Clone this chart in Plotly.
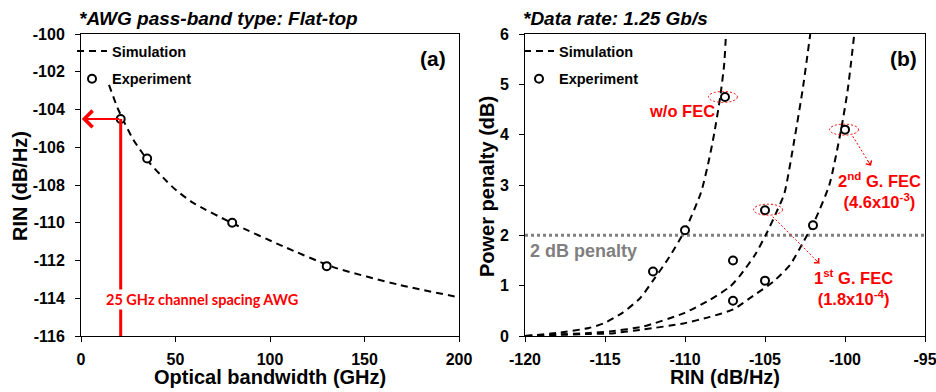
import plotly.graph_objects as go

# ---------------- Data: panel (a) ----------------
bw_sim = [14.8, 19.7, 27.7, 36.5, 45.3, 50.6, 59.4, 80.6, 107, 133.5, 168.8, 200]
rin_sim = [-102.7, -104.0, -105.6, -106.85, -107.8, -108.3, -108.95, -110.05, -111.25, -112.35, -113.3, -113.95]
bw_exp = [21, 35, 80, 130]
rin_exp = [-104.5, -106.6, -110.0, -112.3]
awg_bw = 21
awg_rin = -104.5
xa_ticks = [0, 50, 100, 150, 200]
xa_labels = ["0", "50", "100", "150", "200"]
ya_ticks = [-116, -114, -112, -110, -108, -106, -104, -102, -100]
ya_labels = ["-116", "-114", "-112", "-110", "-108", "-106", "-104", "-102", "-100"]

# ---------------- Data: panel (b) ----------------
rin_nofec = [-120, -118, -116, -115.1, -113.96, -112.81, -111.98, -111.04, -110.0, -109.0, -108.5, -108.17, -107.8, -107.55, -107.44]
pp_nofec = [0.0, 0.06, 0.16, 0.25, 0.45, 0.75, 1.11, 1.54, 2.1, 2.85, 3.5, 4.03, 4.75, 5.4, 6.0]
rin_fec1 = [-120, -118, -116, -114.7, -112.6, -110.1, -108.44, -107.19, -106.56, -105.63, -104.9, -104.27, -103.79, -103.17, -102.65, -102.17]
pp_fec1 = [0.0, 0.03, 0.06, 0.09, 0.19, 0.45, 0.72, 0.98, 1.2, 1.61, 2.04, 2.47, 2.83, 3.89, 4.89, 6.0]
rin_fec2 = [-120, -118, -116, -114.7, -112.6, -110.1, -108.44, -106.98, -105.73, -104.48, -103.44, -102.6, -101.88, -100.98, -100.25, -99.83, -99.42]
pp_fec2 = [0.0, 0.02, 0.04, 0.05, 0.13, 0.25, 0.38, 0.53, 0.8, 1.08, 1.41, 1.87, 2.3, 3.0, 4.09, 4.89, 6.0]
rin_exp_b = [-107.5, -110, -112, -107, -107, -105, -105, -102, -100]
pp_exp_b = [4.75, 2.1, 1.28, 1.5, 0.7, 2.5, 1.1, 2.2, 4.1]
penalty_level = 2
xb_ticks = [-120, -115, -110, -105, -100, -95]
xb_labels = ["-120", "-115", "-110", "-105", "-100", "-95"]
yb_ticks = [0, 1, 2, 3, 4, 5, 6]
yb_labels = ["0", "1", "2", "3", "4", "5", "6"]

FONT = "Liberation Sans, Arial, sans-serif"
RED = "#ff0000"
DASH = "7px,5px"

fig = go.Figure()

line_style = dict(color="black", width=2, dash=DASH, shape="spline", smoothing=0.6)
mk = dict(symbol="circle", size=8, color="white", line=dict(color="black", width=2))

fig.add_trace(go.Scatter(x=bw_sim, y=rin_sim, mode="lines", line=line_style, name="Simulation",
                         xaxis="x", yaxis="y", legend="legend", legendgroup="s"))
fig.add_trace(go.Scatter(x=bw_exp, y=rin_exp, mode="markers", marker=mk, name="Experiment",
                         xaxis="x", yaxis="y", legend="legend", legendgroup="e"))

fig.add_trace(go.Scatter(x=rin_nofec, y=pp_nofec, mode="lines", line=line_style, name="Simulation",
                         xaxis="x2", yaxis="y2", legend="legend2", legendgroup="s2"))
fig.add_trace(go.Scatter(x=rin_fec1, y=pp_fec1, mode="lines", line=line_style, showlegend=False,
                         xaxis="x2", yaxis="y2", legend="legend2", legendgroup="s2"))
fig.add_trace(go.Scatter(x=rin_fec2, y=pp_fec2, mode="lines", line=line_style, showlegend=False,
                         xaxis="x2", yaxis="y2", legend="legend2", legendgroup="s2"))
fig.add_trace(go.Scatter(x=rin_exp_b, y=pp_exp_b, mode="markers", marker=mk, name="Experiment",
                         xaxis="x2", yaxis="y2", legend="legend2", legendgroup="e2"))

tickfont = dict(family=FONT, size=16, color="black", weight="bold")
ax_common = dict(showline=True, linecolor="black", linewidth=1, mirror=True, ticks="outside",
                 ticklen=5, tickcolor="black", showgrid=False, zeroline=False, tickfont=tickfont,
                 tickmode="array", automargin=False, ticklabeloverflow="allow")

fig.update_layout(
    width=936, height=392, margin=dict(l=0, r=0, t=0, b=0, autoexpand=False),
    paper_bgcolor="white", plot_bgcolor="white",
    xaxis=dict(domain=[81/936, 459/936], range=[0, 200], tickvals=xa_ticks, ticktext=xa_labels, anchor="y",
               ticklabelstandoff=4, **ax_common),
    yaxis=dict(domain=[56/392, 358/392], range=[-116, -100], tickvals=ya_ticks, ticktext=ya_labels, anchor="x",
               ticklabelstandoff=7, **ax_common),
    xaxis2=dict(domain=[525/936, 925/936], range=[-120, -95], tickvals=xb_ticks, ticktext=xb_labels, anchor="y2",
                ticklabelstandoff=4, **ax_common),
    yaxis2=dict(domain=[56/392, 358/392], range=[0, 6], tickvals=yb_ticks, ticktext=yb_labels, anchor="x2",
                ticklabelstandoff=7, **ax_common),
    legend=dict(x=72/936, y=(392-35)/392, xanchor="left", yanchor="top", bgcolor="rgba(0,0,0,0)",
                font=dict(family=FONT, size=14.5, color="black", weight="bold"),
                tracegroupgap=6, traceorder="grouped"),
    legend2=dict(x=519/936, y=(392-35)/392, xanchor="left", yanchor="top", bgcolor="rgba(0,0,0,0)",
                 font=dict(family=FONT, size=14.5, color="black", weight="bold"),
                 tracegroupgap=6, traceorder="grouped"),
    showlegend=True,
)

# ---- shapes ----
shapes = []
shapes.append(dict(type="line", xref="x", yref="y", x0=awg_bw, x1=awg_bw, y0=awg_rin, y1=-116,
                   line=dict(color=RED, width=3)))
shapes.append(dict(type="line", xref="x2 domain", yref="y2", x0=0, x1=1, y0=penalty_level, y1=penalty_level,
                   line=dict(color="#808080", width=3, dash="dot"), layer="below"))
for (cx, cy) in [(-107.63, 4.75), (-100.06, 4.10), (-104.81, 2.51)]:
    shapes.append(dict(type="circle", xref="x2", yref="y2", xsizemode="pixel", ysizemode="pixel",
                       xanchor=cx, yanchor=cy, x0=-14.5, x1=14.5, y0=-5.5, y1=5.5,
                       line=dict(color=RED, width=1, dash="2px,2px")))
shapes.append(dict(type="line", xref="x2", yref="y2", x0=-99.52, y0=3.97, x1=-98.375, y1=3.38,
                   line=dict(color=RED, width=1, dash="2px,2px")))
shapes.append(dict(type="line", xref="x2", yref="y2", x0=-104.52, y0=2.37, x1=-101.6, y1=1.44,
                   line=dict(color=RED, width=1, dash="2px,2px")))
fig.update_layout(shapes=shapes)

# ---- annotations ----
ann = []
def text(x, y, s, size, color="black", xref="paper", yref="paper", xanchor="center", yanchor="middle",
         family=FONT, weight="bold", style="normal", textangle=0, **kw):
    ann.append(dict(x=x, y=y, xref=xref, yref=yref, text=s, showarrow=False, xanchor=xanchor,
                    yanchor=yanchor, textangle=textangle,
                    font=dict(family=family, size=size, color=color, weight=weight, style=style), **kw))

text(77/936, (392-19)/392, "*AWG pass-band type: Flat-top", 19, xanchor="left", style="italic")
text(521/936, (392-19)/392, "*Data rate: 1.25 Gb/s", 19, xanchor="left", style="italic")
text(0.931, 0.9205, "(a)", 21, xref="x domain", yref="y domain")
text(0.945, 0.9205, "(b)", 21, xref="x2 domain", yref="y2 domain")
text(270/936, (392-377)/392, "Optical bandwidth (GHz)", 20)
text(725/936, (392-377)/392, "RIN (dB/Hz)", 20)
text(20/936, (392-186)/392, "RIN (dB/Hz)", 20, textangle=-90)
text(487/936, (392-187)/392, "Power penalty (dB)", 20, textangle=-90)
text(63.9, -114.09, "25 GHz channel spacing AWG", 14.5, color=RED, xref="x", yref="y",
     family="Lato, Carlito, sans-serif", bgcolor="white", borderpad=1)
text(-116.375, 1.69, "2 dB penalty", 18, color="#7f7f7f", xref="x2", yref="y2")
text(-110.19, 4.48, "w/o FEC", 16.5, color=RED, xref="x2", yref="y2")
text(-97.875, 2.90, "2<sup>nd</sup> G. FEC<br>(4.6x10<sup>-3</sup>)", 16.5, color=RED, xref="x2", yref="y2")
text(-99.5, 0.97, "1<sup>st</sup> G. FEC<br>(1.8x10<sup>-4</sup>)", 16.5, color=RED, xref="x2", yref="y2")

ann.append(dict(x=0.4, y=awg_rin, xref="x", yref="y", ax=awg_bw, ay=awg_rin, axref="x", ayref="y",
                text="", showarrow=True, arrowhead=4, arrowsize=1.6, arrowwidth=2, arrowcolor=RED))
ann.append(dict(x=-98.375, y=3.38, xref="x2", yref="y2", ax=-4.2, ay=-6.8, text="", showarrow=True,
                arrowhead=4, arrowsize=1.3, arrowwidth=1, arrowcolor=RED))
ann.append(dict(x=-101.6, y=1.44, xref="x2", yref="y2", ax=-5.7, ay=-5.7, text="", showarrow=True,
                arrowhead=4, arrowsize=1.3, arrowwidth=1, arrowcolor=RED))
fig.update_layout(annotations=ann)

fig.write_html("out.html")
